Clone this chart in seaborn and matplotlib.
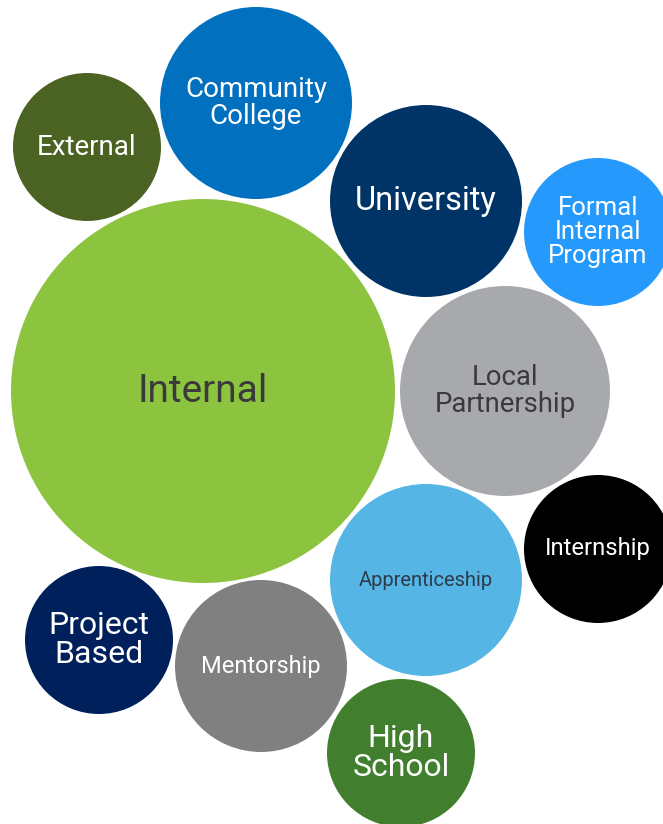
import matplotlib
matplotlib.use("Agg")
import matplotlib.pyplot as plt
import seaborn as sns
import pandas as pd

# ---- data ----
categories = ["Internal", "External", "Community\nCollege", "University",
              "Formal\nInternal\nProgram", "Local\nPartnership", "Internship",
              "Apprenticeship", "Project\nBased", "Mentorship", "High\nSchool"]
bubble_radius = [192, 74, 96, 96, 74, 105, 74, 96, 74, 86, 74]
pos_x = [203, 87, 256, 426, 598, 505, 598, 426, 99, 261, 401]
pos_y = [391, 147, 103, 201, 232, 391, 549, 580, 640, 666, 753]
colors = ["#8CC43F", "#4A6322", "#0070BF", "#003467", "#2699FC", "#A7A9AC",
          "#000000", "#55B6E6", "#00205C", "#808080", "#417F2E"]
text_colors = ["#3A3A3A", "white", "white", "white", "white", "#3A3A3A",
               "white", "#2E3B4A", "white", "white", "white"]
font_sizes = [28, 20, 20, 23.5, 18.5, 19.8, 17.2, 14.5, 23, 17, 23]

W, H, DPI = 6.63, 8.24, 100
sns.set_theme(style="white")
plt.rcParams['font.family'] = ['Roboto', 'DejaVu Sans']

fig = plt.figure(figsize=(W, H), dpi=DPI)
ax = fig.add_axes([0, 0, 1, 1])
ax.set_xlim(0, W * DPI)
ax.set_ylim(H * DPI, 0)
ax.set_aspect("equal")
ax.axis("off")

pt_per_unit = 72.0 / DPI
df = pd.DataFrame({
    "cat": categories,
    "x": pos_x,
    "y": pos_y,
    "area": [(2 * r * pt_per_unit) ** 2 for r in bubble_radius],
})
sns.scatterplot(data=df, x="x", y="y", hue="cat", size="area",
                sizes=(df["area"].min(), df["area"].max()),
                palette=dict(zip(categories, colors)),
                linewidth=0, legend=False, ax=ax, alpha=1)

for c, x, y, tc, fs in zip(categories, pos_x, pos_y, text_colors, font_sizes):
    ax.text(x, y, c, ha="center", va="center", color=tc, fontsize=fs,
            linespacing=1.0, multialignment="center")

fig.savefig("out.png", dpi=DPI)
